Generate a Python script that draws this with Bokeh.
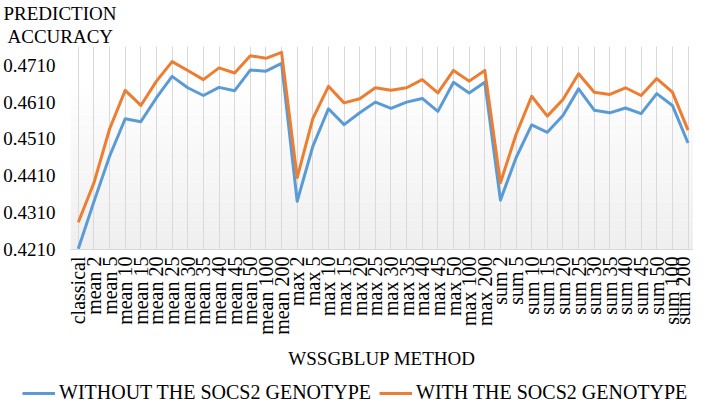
import numpy as np
from bokeh.plotting import figure
from bokeh.layouts import column
from bokeh.models import Range1d, FixedTicker, Title, Legend, BoxAnnotation
from bokeh.embed import file_html
from bokeh.resources import INLINE

categories = ["classical",
              "mean 2", "mean 5", "mean 10", "mean 15", "mean 20", "mean 25", "mean 30",
              "mean 35", "mean 40", "mean 45", "mean 50", "mean 100", "mean 200",
              "max 2", "max 5", "max 10", "max 15", "max 20", "max 25", "max 30",
              "max 35", "max 40", "max 45", "max 50", "max 100", "max 200",
              "sum 2", "sum 5", "sum 10", "sum 15", "sum 20", "sum 25", "sum 30",
              "sum 35", "sum 40", "sum 45", "sum 50", "sum 100", "sum 200"]

without_socs2 = [0.4212,
                 0.4340, 0.4463, 0.4565, 0.4557, 0.4622, 0.4680, 0.4649,
                 0.4628, 0.4650, 0.4641, 0.4697, 0.4694, 0.4715,
                 0.4341, 0.4490, 0.4592, 0.4549, 0.4581, 0.4610, 0.4593,
                 0.4610, 0.4620, 0.4585, 0.4664, 0.4635, 0.4664,
                 0.4344, 0.4459, 0.4548, 0.4528, 0.4574, 0.4646, 0.4588,
                 0.4581, 0.4594, 0.4579, 0.4633, 0.4601, 0.4499]

with_socs2 = [0.4284,
              0.4391, 0.4537, 0.4642, 0.4601, 0.4667, 0.4720, 0.4696,
              0.4671, 0.4703, 0.4689, 0.4736, 0.4729, 0.4745,
              0.4405, 0.4565, 0.4653, 0.4608, 0.4619, 0.4649, 0.4642,
              0.4649, 0.4671, 0.4635, 0.4696, 0.4667, 0.4696,
              0.4391, 0.4522, 0.4626, 0.4572, 0.4617, 0.4687, 0.4637,
              0.4631, 0.4649, 0.4628, 0.4674, 0.4637, 0.4534]

y_ticks = [0.4210, 0.4310, 0.4410, 0.4510, 0.4610, 0.4710]
y_tick_labels = ["0.4210", "0.4310", "0.4410", "0.4510", "0.4610", "0.4710"]

series_names = ["WITHOUT THE SOCS2 GENOTYPE", "WITH THE SOCS2 GENOTYPE"]
series_colors = ["#5B9BD5", "#ED7D31"]

FONT = "Liberation Serif"
x = list(range(len(categories)))

y0, y1 = 0.4210, 0.4761
p = figure(width=693, height=380, output_backend="svg", toolbar_location=None,
           title=None, frame_align=False,
           x_range=Range1d(-0.5, len(categories) - 1 + 0.35),
           y_range=Range1d(y0, y1),
           min_border_left=0, min_border_right=0, min_border_top=0,
           min_border_bottom=131)
p.outline_line_color = None
p.background_fill_color = "white"
p.border_fill_color = "white"

# subtle vertical gradient (white at top, light gray at bottom)
n_bands = 18
g_top = 0.4680
edges = np.linspace(y0, g_top, n_bands + 1)
for i in range(n_bands):
    t = i / (n_bands - 1)
    c = int(round(239 + (255 - 239) * t))
    p.add_layout(BoxAnnotation(bottom=edges[i], top=edges[i + 1],
                               fill_color=(c, c, c), fill_alpha=1.0,
                               line_color=None, level="image"))

# titles
p.add_layout(Title(text="ACCURACY", text_font=FONT, text_font_size="19px",
                   text_font_style="normal", text_color="#000000",
                   align="left", offset=-63, standoff=0), "above")
p.add_layout(Title(text="PREDICTION", text_font=FONT, text_font_size="19px",
                   text_font_style="normal", text_color="#000000",
                   align="left", offset=-67, standoff=0), "above")

r1 = p.line(x, without_socs2, line_color=series_colors[0], line_width=3, line_join="round")
r2 = p.line(x, with_socs2, line_color=series_colors[1], line_width=3, line_join="round")

# x axis
p.xaxis.ticker = FixedTicker(ticks=x)
p.xaxis.major_label_overrides = {i: c for i, c in enumerate(categories)}
p.xaxis.major_label_orientation = np.pi / 2
p.xaxis.major_label_text_font = FONT
p.xaxis.major_label_text_font_size = "20px"
p.xaxis.major_label_text_color = "#000000"
p.xaxis.major_label_standoff = 7
p.xaxis.major_tick_line_color = None
p.xaxis.major_tick_out = 0
p.xaxis.major_tick_in = 0
p.xaxis.minor_tick_line_color = None
p.xaxis.axis_line_color = "#d9d9d9"
p.xaxis.axis_label = "WSSGBLUP METHOD"
p.xaxis.axis_label_text_font = FONT
p.xaxis.axis_label_text_font_size = "19px"
p.xaxis.axis_label_text_font_style = "normal"
p.xaxis.axis_label_text_color = "#000000"
p.xaxis.axis_label_standoff = 10

# y axis
p.yaxis.ticker = FixedTicker(ticks=y_ticks)
p.yaxis.major_label_overrides = {v: s for v, s in zip(y_ticks, y_tick_labels)}
p.yaxis.major_label_text_font = FONT
p.yaxis.major_label_text_font_size = "19px"
p.yaxis.major_label_text_color = "#000000"
p.yaxis.major_label_standoff = 15
p.yaxis.major_tick_line_color = None
p.yaxis.major_tick_out = 0
p.yaxis.major_tick_in = 0
p.yaxis.minor_tick_line_color = None
p.yaxis.axis_line_color = None

p.xgrid.grid_line_color = "#d9d9d9"
p.ygrid.grid_line_color = None

# legend strip below the chart (series drawn outside its visible range,
# only their legend swatches show)
lg = figure(width=693, height=24, output_backend="svg", toolbar_location=None,
            title=None, x_axis_type=None, y_axis_type=None, frame_align=False,
            x_range=Range1d(0, 1), y_range=Range1d(5, 6),
            min_border_left=0, min_border_right=0, min_border_top=0, min_border_bottom=0)
lg.grid.visible = False
lg.outline_line_color = None
lg.background_fill_color = "white"
lg.border_fill_color = "white"
k1 = lg.line(x, without_socs2, line_color=series_colors[0], line_width=3)
k2 = lg.line(x, with_socs2, line_color=series_colors[1], line_width=3)
legend = Legend(items=[(series_names[0], [k1]), (series_names[1], [k2])],
                orientation="horizontal", location=(22, 0),
                label_text_font=FONT, label_text_font_size="20px",
                label_text_color="#000000",
                glyph_width=33, glyph_height=20, label_standoff=4, spacing=8,
                padding=0, margin=0, border_line_color=None,
                background_fill_alpha=0)
lg.add_layout(legend)

layout = column(p, lg, spacing=0)
open("out.html", "w").write(file_html(layout, INLINE))
